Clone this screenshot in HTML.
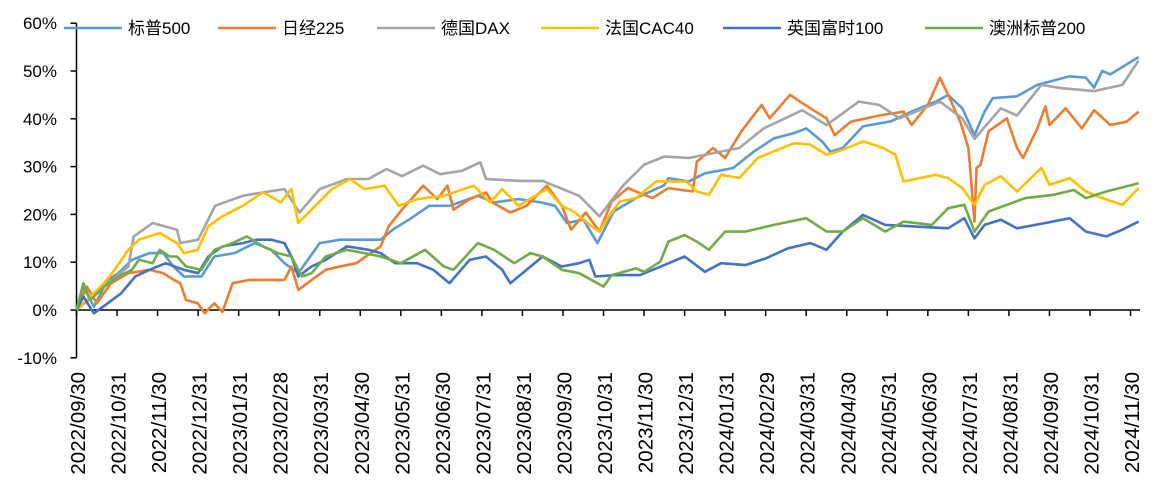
<!DOCTYPE html>
<html><head><meta charset="utf-8">
<style>
html,body{margin:0;padding:0;background:#fff;}
svg{display:block;font-family:"Liberation Sans","Noto Sans CJK SC",sans-serif;}
</style></head>
<body>
<svg id="chart" width="1158" height="489" viewBox="0 0 1158 489" xmlns="http://www.w3.org/2000/svg">
<g id="axes"></g>
<g id="series"></g>
<g id="legend"></g>
</svg>
<script>
const yTicks = [-10, 0, 10, 20, 30, 40, 50, 60];
const xLabels = ["2022/09/30","2022/10/31","2022/11/30","2022/12/31","2023/01/31","2023/02/28","2023/03/31","2023/04/30","2023/05/31","2023/06/30","2023/07/31","2023/08/31","2023/09/30","2023/10/31","2023/11/30","2023/12/31","2024/01/31","2024/02/29","2024/03/31","2024/04/30","2024/05/31","2024/06/30","2024/07/31","2024/08/31","2024/09/30","2024/10/31","2024/11/30"];
const seriesNames = ["标普500","日经225","德国DAX","法国CAC40","英国富时100","澳洲标普200"];

const spxT = [0,0.17,0.43,0.77,1.03,1.37,1.8,2.14,2.39,2.65,3.08,3.4,3.9,4.4,4.8,5.13,5.47,6.0,6.5,7.0,7.5,7.8,8.2,8.7,9.2,9.9,10.3,10.9,11.45,11.8,12.1,12.5,12.85,13.25,13.8,14.5,14.6,15.1,15.5,16.2,16.7,17.2,17.7,18.0,18.4,18.6,18.9,19.4,20.1,20.6,21.2,21.5,21.85,22.15,22.4,22.6,23.2,23.7,24.5,24.9,25.1,25.3,25.5,26.2];
const spxV = [0,4.9,0.7,6.3,7.7,10.5,11.9,11.9,9.1,7,7,11.2,11.9,14,12.6,9.8,7.7,14,14.7,14.7,14.7,16.8,18.9,21.8,21.8,23.9,22.5,23.2,22.5,21.8,18.2,18.9,14,20.6,23.4,26.1,27.6,26.9,28.6,29.7,33.1,35.9,37,38,35.2,33.1,33.9,38.4,39.5,41.5,43.6,45,42.2,36.6,41.5,44.3,44.7,47.1,48.9,48.6,46.5,50,49.3,52.9];

const nkyT = [0,0.26,0.5,0.85,1.28,1.8,2.14,2.4,2.56,2.7,2.99,3.16,3.4,3.6,3.85,4.27,4.8,5.13,5.3,5.47,5.8,6.15,6.5,6.9,7.26,7.5,7.7,8.03,8.55,8.9,9.15,9.3,9.7,10.1,10.26,10.7,11.1,11.6,11.97,12.2,12.56,12.9,13.2,13.6,14.2,14.6,15.2,15.3,15.7,16.0,16.4,16.9,17.1,17.6,18.1,18.5,18.7,19.1,19.8,20.4,20.6,21.0,21.3,21.5,21.8,22.0,22.15,22.2,22.3,22.5,22.95,23.2,23.35,23.7,23.9,24.0,24.4,24.8,25.1,25.5,25.9,26.2];
const nkyV = [0,4.9,1.4,5.6,7.7,8.4,7.7,6.3,5.6,2.1,1.4,-0.7,1.4,-0.4,5.6,6.3,6.3,6.3,9.1,4.2,6.3,8.4,9.1,9.8,11.9,13.3,17.5,21,26,23.2,26,21,23.2,24.6,22.5,20.4,21.8,26,21.8,16.8,20.4,16.4,22.7,25.5,23.4,25.5,24.8,31,33.9,31.8,37.4,42.9,40.1,45,42.2,40.1,36.6,39.4,40.7,41.5,38.7,42.9,48.6,45,39.4,33.9,18.5,29.7,30.4,37.4,40.1,33.9,31.8,38,42.6,38.7,42.2,38,41.8,38.7,39.4,41.5];

const daxT = [0,0.68,1.28,1.41,1.88,2.48,2.56,3.0,3.42,4.1,4.6,5.13,5.5,6.0,6.67,7.2,7.65,8.03,8.55,8.97,9.5,9.96,10.1,10.95,11.5,12.4,12.9,13.16,13.5,14.0,14.5,15.1,16.35,16.95,17.9,18.5,19.3,19.8,20.3,20.9,21.3,21.85,22.15,22.8,23.2,23.8,24.3,25.1,25.8,26.2];
const daxV = [0,4.9,9.1,15.4,18.2,16.8,14,14.7,21.8,23.9,24.6,25.3,20.4,25.3,27.4,27.4,29.5,28,30.2,28.4,29.1,30.9,27.4,27,27,23.9,19.6,22.5,26.2,30.4,32.1,31.8,33.9,38,41.8,38.7,43.6,42.9,40.1,42.2,43.6,40.1,35.8,42.2,40.7,47.1,46.4,45.8,47.1,52.2];

const cacT = [0,0.34,0.68,0.94,1.28,1.54,2.05,2.48,2.65,2.99,3.25,3.6,4.1,4.6,5.04,5.3,5.47,5.8,6.3,6.75,7.1,7.6,7.95,8.4,9.06,9.8,10.2,10.5,10.9,11.6,11.97,12.3,12.7,12.9,13.1,13.4,13.8,14.3,15.05,15.3,15.6,15.9,16.35,16.8,17.2,17.7,18.1,18.5,18.9,19.4,19.9,20.2,20.4,20.8,21.2,21.5,21.85,22.15,22.4,22.8,23.2,23.8,24.0,24.5,24.9,25.3,25.8,26.2];
const cacV = [0,2.8,5.6,8.4,12.6,14.7,16.1,14,11.9,12.6,17.5,19.6,21.8,24.6,22.5,25.3,18.2,21,25.3,27.4,25.3,26,21.8,23.2,23.9,26,22.5,25.3,21.8,25.3,21.8,20.4,17.5,16.4,19.2,22.7,23.4,26.9,26.9,24.8,24.1,28.3,27.6,31.8,33.2,34.9,34.6,32.5,33.5,35.3,33.9,32.5,26.9,27.6,28.3,27.6,25.5,22,26.2,28,24.8,29.7,26.2,27.6,24.8,23.4,22,25.5];

const ukxT = [0,0.17,0.43,0.77,1.1,1.45,1.8,2.2,2.65,3.0,3.25,3.6,4.1,4.44,4.8,5.13,5.3,5.47,5.8,6.15,6.67,7.2,7.5,7.86,8.4,8.8,9.2,9.7,10.1,10.5,10.7,11.0,11.5,11.97,12.4,12.65,12.8,13.3,13.9,14.5,15.0,15.5,15.9,16.5,17.0,17.55,18.1,18.5,18.9,19.4,19.95,20.6,21.5,21.9,22.15,22.4,22.8,23.2,23.9,24.5,24.9,25.4,25.8,26.2];
const ukxV = [0,2.8,-0.7,1.4,3.5,7,8.4,9.8,8.4,7.7,11.2,13.3,14,14.7,14.7,14,11.2,7,9.1,10.5,13.3,12.6,11.9,9.8,9.8,8.4,5.6,10.5,11.2,8.4,5.6,7.7,11.2,9.1,9.8,10.5,7,7.3,7.3,9.4,11.2,8,9.8,9.4,10.8,12.9,14,12.6,16.4,19.9,17.8,17.5,17.1,19.2,15,17.8,18.9,17.1,18.2,19.2,16.4,15.4,16.8,18.5];

const asxT = [0,0.17,0.34,0.68,1.03,1.37,1.54,1.88,2.05,2.3,2.48,2.7,3.08,3.4,3.85,4.2,4.6,4.96,5.3,5.56,5.8,6.15,6.67,7.1,7.5,8.0,8.6,9.06,9.3,9.9,10.3,10.8,11.2,11.5,11.97,12.4,13.0,13.2,13.8,14.0,14.4,14.6,15.0,15.3,15.6,16.0,16.5,17.2,18.0,18.5,18.9,19.4,19.95,20.4,21.1,21.5,21.9,22.15,22.5,22.95,23.4,24.1,24.6,24.9,25.4,26.2];
const asxV = [0,5.6,2.1,4.9,7,8.4,10.5,9.8,12.6,11.2,11.2,9.1,8.4,12.6,14,15.4,13.3,11.9,11.2,7,7.7,11.2,12.6,11.9,11.2,9.8,12.6,9.1,8.4,14,12.6,9.8,11.9,11.2,8.4,7.7,4.9,7.3,8.7,8,10.1,14.3,15.7,14.3,12.6,16.4,16.4,17.8,19.2,16.4,16.4,19.2,16.4,18.5,17.8,21.3,22,16.4,20.6,22,23.4,24.1,25.1,23.4,24.8,26.5];

const NS = "http://www.w3.org/2000/svg";
const X0 = 76.5, XSTEP = 40.54, Y0 = 310, YPER = 4.78;
function xs(m){ return X0 + m * XSTEP; }
function ys(v){ return Y0 - v * YPER; }
function mk(tag, attrs, parent){
  const e = document.createElementNS(NS, tag);
  for (const k in attrs) e.setAttribute(k, attrs[k]);
  parent.appendChild(e);
  return e;
}
const axes = document.getElementById('axes');
const yLine = mk('line', {x1:X0, y1:ys(60), x2:X0, y2:ys(-10), stroke:'#000', 'stroke-width':1.5}, axes);


yTicks.forEach(t => {
  const tk = mk('line', {x1:X0-6, y1:ys(t), x2:X0, y2:ys(t), stroke:'#000', 'stroke-width':1.5}, axes);
  
  
  const lb = mk('text', {x:57, y:ys(t)+6, 'text-anchor':'end', 'font-size':17, fill:'#000'}, axes);
  lb.textContent = t + '%';
  
  
});
const xLine = mk('line', {x1:X0, y1:Y0, x2:1140, y2:Y0, stroke:'#000', 'stroke-width':1.5}, axes);


xLabels.forEach((lab, i) => {
  const x = xs(i);
  const tk = mk('line', {x1:x, y1:Y0, x2:x, y2:Y0+6, stroke:'#000', 'stroke-width':1.5}, axes);
  
  
  const tx = mk('text', {x:0, y:0, 'text-anchor':'end', 'font-size':20.5, fill:'#000', transform:'translate(' + (x+8.5) + ',372) rotate(-90)'}, axes);
  tx.textContent = lab;
  
  
});
const colors = ['#5B9BD5','#ED7D31','#A5A5A5','#FFC000','#4472C4','#70AD47'];
const allT = [spxT, nkyT, daxT, cacT, ukxT, asxT];
const allV = [spxV, nkyV, daxV, cacV, ukxV, asxV];
const sg = document.getElementById('series');
const keys = ['sp500','nikkei225','dax','cac40','ftse100','asx200'];
allT.forEach((T, si) => {
  const V = allV[si];
  const d = T.map((m, i) => (i ? 'L' : 'M') + xs(m).toFixed(1) + ',' + ys(V[i]).toFixed(1)).join(' ');
  const p = mk('path', {d:d, fill:'none', stroke:colors[si], 'stroke-width':2.6, 'stroke-linejoin':'round'}, sg);
  
  
});
const lg = document.getElementById('legend');
const legX = [64, 218, 377, 541, 723, 925];
seriesNames.forEach((nm, i) => {
  const g = mk('g', {}, lg);
  
  
  mk('line', {x1:legX[i], y1:28, x2:legX[i]+58, y2:28, stroke:colors[i], 'stroke-width':2.6}, g);
  const t = mk('text', {x:legX[i]+64, y:34, 'font-size':17, fill:'#000'}, g);
  t.textContent = nm;
});
</script>
</body></html>
